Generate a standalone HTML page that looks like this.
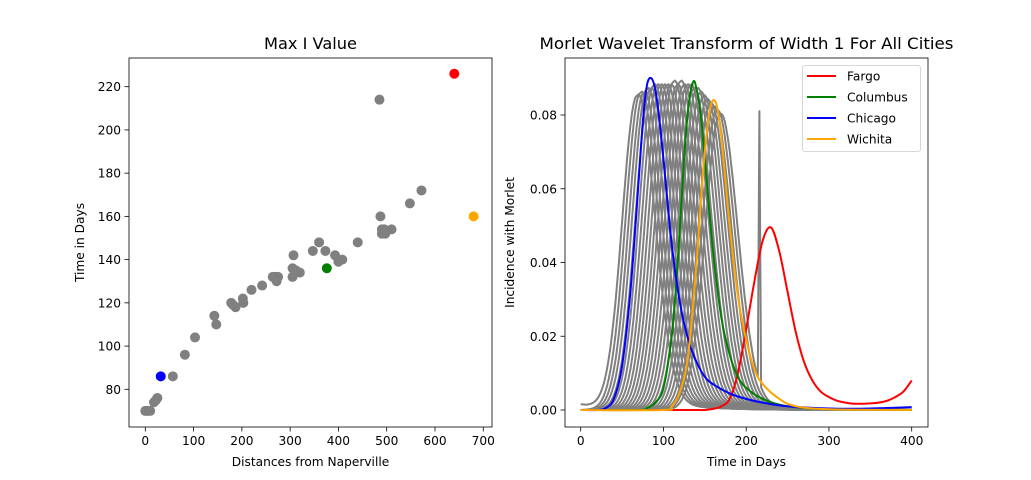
<!DOCTYPE html>
<html><head><meta charset="utf-8"><style>
html,body{margin:0;padding:0;background:#fff}
svg{display:block;font-family:"DejaVu Sans","Liberation Sans",sans-serif}
</style></head><body>
<svg id="fig" width="1031" height="480" viewBox="0 0 1031 480" xmlns="http://www.w3.org/2000/svg">
<rect width="1031" height="480" fill="#fff"/>
<g id="left"></g>
<g id="right"></g>
</svg>
<script>
// ---- Left scatter data ----
const distances = [0,5,10,18,22,25,57,82,103,143,147,178,182,187,202,203,220,242,264,270,272,275,305,305,307,312,320,347,360,373,393,400,408,440,485,487,490,490,495,497,510,548,572];
const peakTimes = [70,70,70,74,75,76,86,96,104,114,110,120,119,118,122,120,126,128,132,132,130,132,132,136,142,135,134,144,148,144,142,139,140,148,214,160,154,152,154,152,154,166,172];
const hiNames = ["Chicago","Columbus","Wichita","Fargo"];
const hiDist = [32,376,680,640];
const hiTime = [86,136,160,226];
const hiColors = ["blue","green","orange","red"];
const leftXTicks = [0,100,200,300,400,500,600,700];
const leftYTicks = [80,100,120,140,160,180,200,220];

// ---- Right wavelet data ----
const fargoDays = [0,10,20,30,40,50,60,70,80,90,100,110,120,130,140,150,160,170,180,190,200,210,220,230,240,250,260,270,280,290,300,310,320,330,340,350,360,370,380,390,400];
const fargo = [0,0,0,0,0,0,0,0,0,0,0,0,0,0,0,0,0.0003,0.001,0.003,0.01,0.022,0.035,0.046,0.0495,0.043,0.032,0.021,0.013,0.008,0.005,0.0035,0.0025,0.002,0.0017,0.0017,0.0018,0.002,0.0025,0.0035,0.005,0.008];
const columbusDays = [0,70,80,90,100,110,115,120,125,130,136,140,145,150,160,170,180,190,200,220,250,300,400];
const columbus = [0,0,0.0005,0.002,0.006,0.02,0.033,0.05,0.068,0.082,0.089,0.087,0.08,0.068,0.043,0.025,0.015,0.009,0.006,0.003,0.001,0.0002,0];
const chicagoDays = [0,20,30,40,50,60,70,75,80,85,90,95,100,110,120,130,140,150,160,180,200,220,250,300,350,400];
const chicago = [0,0,0.0005,0.003,0.012,0.032,0.062,0.078,0.088,0.09,0.087,0.079,0.068,0.045,0.029,0.019,0.013,0.009,0.007,0.0045,0.003,0.002,0.001,0.0004,0.0004,0.0008];
const wichitaDays = [0,100,110,120,130,140,145,150,155,160,165,170,175,180,190,200,210,220,240,260,300,400];
const wichita = [0,0,0.001,0.005,0.015,0.04,0.056,0.07,0.08,0.084,0.082,0.074,0.062,0.05,0.031,0.019,0.011,0.007,0.003,0.001,0.0002,0];
const grayPeakDays = [68,72,76,80,84,88,92,96,100,104,108,112,116,120,124,128,132,136,140,144,148,152,156,160,164,168];
const grayPeakVals = [0.085,0.086,0.086,0.087,0.087,0.088,0.088,0.088,0.088,0.088,0.088,0.089,0.088,0.089,0.088,0.088,0.088,0.087,0.087,0.086,0.085,0.084,0.083,0.082,0.081,0.08];
const spikeDay = 216, spikeVal = 0.081;
const rightXTicks = [0,100,200,300,400];
const rightYTicks = [0,0.02,0.04,0.06,0.08];
const seriesNames = ["Fargo","Columbus","Chicago","Wichita"];
const seriesColors = ["red","green","blue","orange"];

const NS="http://www.w3.org/2000/svg";
function mk(tag, attrs, parent){const e=document.createElementNS(NS,tag);for(const k in attrs)e.setAttribute(k,attrs[k]);parent.appendChild(e);return e;}
function smooth(pts){
  let s='M'+pts[0][0].toFixed(1)+' '+pts[0][1].toFixed(1);
  for(let i=0;i<pts.length-1;i++){
    const p0=pts[Math.max(0,i-1)],p1=pts[i],p2=pts[i+1],p3=pts[Math.min(pts.length-1,i+2)];
    const c1=[p1[0]+(p2[0]-p0[0])/6,p1[1]+(p2[1]-p0[1])/6];
    const c2=[p2[0]-(p3[0]-p1[0])/6,p2[1]-(p3[1]-p1[1])/6];
    s+='C'+c1[0].toFixed(1)+' '+c1[1].toFixed(1)+' '+c2[0].toFixed(1)+' '+c2[1].toFixed(1)+' '+p2[0].toFixed(1)+' '+p2[1].toFixed(1);
  }
  return s;
}

// Left axes
const L={x0:129,x1:492,y0:58,y1:427};
const lx=v=>145.3+v*0.4828;
const ly=v=>389.3-(v-80)*2.1615;
const lg=document.getElementById('left');
let t=mk('text',{x:(L.x0+L.x1)/2,y:49,'text-anchor':'middle','font-size':'16.2'},lg);t.textContent='Max I Value';


leftXTicks.forEach(v=>{
  mk('line',{x1:lx(v),x2:lx(v),y1:L.y1,y2:L.y1+4.5,stroke:'#000','stroke-width':0.8},lg);
  const tt=mk('text',{x:lx(v),y:L.y1+18,'text-anchor':'middle','font-size':'12.2'},lg);tt.textContent=v;
  
  
});
leftYTicks.forEach(v=>{
  mk('line',{x1:L.x0-4.5,x2:L.x0,y1:ly(v),y2:ly(v),stroke:'#000','stroke-width':0.8},lg);
  const tt=mk('text',{x:L.x0-8,y:ly(v)+4.5,'text-anchor':'end','font-size':'12.2'},lg);tt.textContent=v;
  
  
});
t=mk('text',{x:(L.x0+L.x1)/2,y:466,'text-anchor':'middle','font-size':'12.2'},lg);t.textContent='Distances from Naperville';


t=mk('text',{x:0,y:0,'text-anchor':'middle','font-size':'12.2',transform:`translate(84,${(L.y0+L.y1)/2}) rotate(-90)`},lg);t.textContent='Time in Days';


distances.forEach((d,i)=>{
  const c=mk('circle',{cx:lx(d),cy:ly(peakTimes[i]),r:5,fill:'grey'},lg);
  
  
});
hiDist.forEach((d,i)=>{
  const c=mk('circle',{cx:lx(d),cy:ly(hiTime[i]),r:5,fill:hiColors[i]},lg);
  
  
});
let fr=mk('rect',{x:L.x0,y:L.y0,width:L.x1-L.x0,height:L.y1-L.y0,fill:'none',stroke:'#000','stroke-width':0.8},lg);



// Right axes
const R={x0:565,x1:928,y0:58,y1:427};
const rx=v=>580.7+v*0.8275;
const ry=v=>410-v*3687.5;
const rg=document.getElementById('right');
t=mk('text',{x:(R.x0+R.x1)/2,y:49,'text-anchor':'middle','font-size':'16.2',textLength:414,lengthAdjust:'spacingAndGlyphs'},rg);t.textContent='Morlet Wavelet Transform of Width 1 For All Cities';


rightXTicks.forEach(v=>{
  mk('line',{x1:rx(v),x2:rx(v),y1:R.y1,y2:R.y1+4.5,stroke:'#000','stroke-width':0.8},rg);
  const tt=mk('text',{x:rx(v),y:R.y1+18,'text-anchor':'middle','font-size':'12.2'},rg);tt.textContent=v;
  
  
});
rightYTicks.forEach(v=>{
  mk('line',{x1:R.x0-4.5,x2:R.x0,y1:ry(v),y2:ry(v),stroke:'#000','stroke-width':0.8},rg);
  const tt=mk('text',{x:R.x0-8,y:ry(v)+4.5,'text-anchor':'end','font-size':'12.2'},rg);tt.textContent=v.toFixed(2);
  
  
});
t=mk('text',{x:(R.x0+R.x1)/2,y:466,'text-anchor':'middle','font-size':'12.2'},rg);t.textContent='Time in Days';


t=mk('text',{x:0,y:0,'text-anchor':'middle','font-size':'12.2',transform:`translate(514,${(R.y0+R.y1)/2}) rotate(-90)`},rg);t.textContent='Incidence with Morlet';



// gray curves: shape from peak day & value
function grayVal(d,p,h){
  if(d<=p){const u=(p-d)/25;return h*Math.exp(-u*u);}
  const u=(d-p)/30;return h*Math.exp(-u*u)+h*0.04*(1-Math.exp(-(d-p)/8))*Math.exp(-(d-p)/50);
}
grayPeakDays.forEach((p,i)=>{
  const pts=[];
  for(let d=0;d<=400;d+=2){
    let v=grayVal(d,p,grayPeakVals[i]);
    if(i===0) v+=0.0015*Math.exp(-d/40);
    if(i===grayPeakDays.length-1 && d===spikeDay) v=spikeVal;
    pts.push([rx(d),ry(v)]);
  }
  const s=pts.map((q,j)=>(j?'L':'M')+q[0].toFixed(1)+' '+q[1].toFixed(1)).join('');
  const pth=mk('path',{d:s,fill:'none',stroke:'grey','stroke-width':2,'stroke-linejoin':'round'},rg);
  
  
});
[[fargoDays,fargo],[columbusDays,columbus],[chicagoDays,chicago],[wichitaDays,wichita]].forEach((pair,k)=>{
  const pts=pair[1].map((v,i)=>[rx(pair[0][i]),ry(v)]);
  const pth=mk('path',{d:smooth(pts),fill:'none',stroke:seriesColors[k],'stroke-width':2,'stroke-linejoin':'round'},rg);
  
  
});
fr=mk('rect',{x:R.x0,y:R.y0,width:R.x1-R.x0,height:R.y1-R.y0,fill:'none',stroke:'#000','stroke-width':0.8},rg);



// legend
const lgG=mk('g',{},rg);


mk('rect',{x:802.5,y:65.5,width:118,height:86,rx:2.5,fill:'#fff','fill-opacity':0.8,stroke:'#ccc','stroke-width':0.8},lgG);
seriesNames.forEach((n,i)=>{
  const y=76+i*21;
  mk('line',{x1:807,x2:836,y1:y,y2:y,stroke:seriesColors[i],'stroke-width':2},lgG);
  const tt=mk('text',{x:847,y:y+4.5,'font-size':'12.2'},lgG);tt.textContent=n;
  
  
});
</script>
</body></html>
